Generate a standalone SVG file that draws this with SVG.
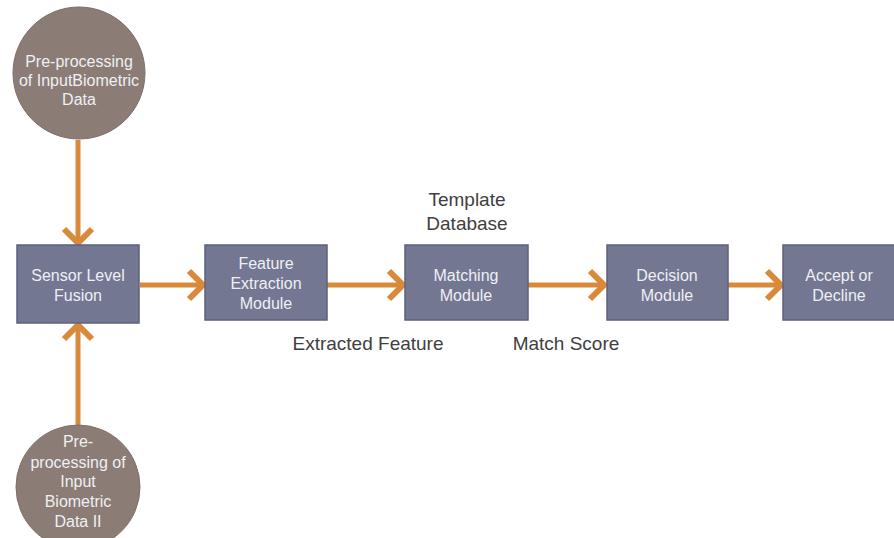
<svg xmlns="http://www.w3.org/2000/svg" width="894" height="538" viewBox="0 0 894 538">
<defs>
<style>
.circ{fill:#8b7d75;stroke:#7d7068;stroke-width:1}
.box{fill:#737792;stroke:#5e627b;stroke-width:1.5}
.nt{font-family:"Liberation Sans",Arial,sans-serif;font-size:16px;fill:#eef0f4;text-anchor:middle}
.lb{font-family:"Liberation Sans",Arial,sans-serif;font-size:19px;fill:#404040;text-anchor:middle}
.ln{stroke:#d9893a;stroke-width:5;fill:none}
.hd{stroke:#d9893a;stroke-width:6;fill:none;stroke-linecap:butt;stroke-linejoin:miter}
</style>
<linearGradient id="bg" x1="0" y1="0" x2="0" y2="1">
<stop offset="0" stop-color="#7a7e98"/>
<stop offset="1" stop-color="#6d718b"/>
</linearGradient>
</defs>
<rect width="894" height="538" fill="#ffffff"/>
<g id="connectors">
<line class="ln" x1="78" y1="140" x2="78" y2="240"/>
<polyline class="hd" points="64,229 78,243 92,229"/>
<line class="ln" x1="78" y1="425" x2="78" y2="328"/>
<polyline class="hd" points="64,339 78,325 92,339"/>
<line class="ln" x1="140" y1="285" x2="200" y2="285"/>
<polyline class="hd" points="189,271 203,285 189,299"/>
<line class="ln" x1="327" y1="285" x2="400" y2="285"/>
<polyline class="hd" points="389,271 403,285 389,299"/>
<line class="ln" x1="528" y1="285" x2="601" y2="285"/>
<polyline class="hd" points="590,271 604,285 590,299"/>
<line class="ln" x1="728" y1="285" x2="778" y2="285"/>
<polyline class="hd" points="767,271 781,285 767,299"/>
</g>
<g id="pre1">
<circle class="circ" cx="79" cy="73" r="66"/>
<text class="nt" x="79" y="67">Pre-processing</text>
<text class="nt" x="79" y="86">of InputBiometric</text>
<text class="nt" x="79" y="105">Data</text>
</g>
<g id="pre2">
<circle class="circ" cx="78" cy="487" r="62"/>
<text class="nt" x="78" y="447">Pre-</text>
<text class="nt" x="78" y="468">processing of</text>
<text class="nt" x="78" y="487">Input</text>
<text class="nt" x="78" y="507">Biometric</text>
<text class="nt" x="78" y="527">Data II</text>
</g>
<g id="sensor">
<rect class="box" x="17" y="245" width="122" height="78" fill="url(#bg)"/>
<text class="nt" x="78" y="281">Sensor Level</text>
<text class="nt" x="78" y="301">Fusion</text>
</g>
<g id="feature">
<rect class="box" x="205" y="245" width="122" height="75"/>
<text class="nt" x="266" y="269">Feature</text>
<text class="nt" x="266" y="289">Extraction</text>
<text class="nt" x="266" y="309">Module</text>
</g>
<g id="matching">
<rect class="box" x="405" y="245" width="123" height="75"/>
<text class="nt" x="466" y="281">Matching</text>
<text class="nt" x="466" y="301">Module</text>
</g>
<g id="decision">
<rect class="box" x="607" y="245" width="121" height="75"/>
<text class="nt" x="667" y="281">Decision</text>
<text class="nt" x="667" y="301">Module</text>
</g>
<g id="accept">
<rect class="box" x="783" y="245" width="115" height="75"/>
<text class="nt" x="839" y="281">Accept or</text>
<text class="nt" x="839" y="301">Decline</text>
</g>
<g id="labels">
<text class="lb" x="467" y="206">Template</text>
<text class="lb" x="467" y="230">Database</text>
<text class="lb" x="368" y="350">Extracted Feature</text>
<text class="lb" x="566" y="350">Match Score</text>
</g>
</svg>
